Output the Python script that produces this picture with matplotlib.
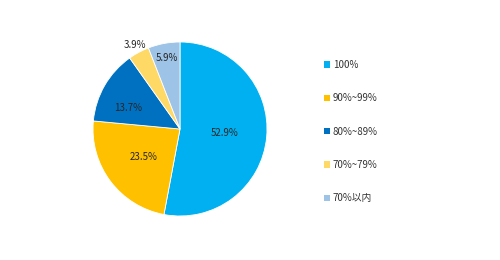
import numpy as np
import matplotlib
matplotlib.use('Agg')
import matplotlib.pyplot as plt
from matplotlib.patches import Patch

plt.rcParams['font.family'] = ['Noto Sans CJK JP', 'DejaVu Sans']

labels = ['100%', '90%~99%', '80%~89%', '70%~79%', '70%以内']
values = [52.9, 23.5, 13.7, 3.9, 5.9]
colors = ['#00B0F0', '#FFC000', '#0070C0', '#FFD966', '#9DC3E6']

# label placement per slice: distance from centre (fraction of radius), angle shift (deg)
label_dist = [0.52, 0.53, 0.64, 1.09, 0.83]
label_shift = [0, 0, 8, 0, 0]

fig = plt.figure(figsize=(5, 2.6), dpi=100)
ax = fig.add_axes([93 / 500, 44 / 260, 174 / 500, 174 / 260])
wedges, _ = ax.pie(values, colors=colors, startangle=90, counterclock=False,
                   wedgeprops=dict(edgecolor='white', linewidth=0.6))
ax.set_xlim(-1, 1)
ax.set_ylim(-1, 1)
ax.set_aspect('equal')

for w, v, d, s in zip(wedges, values, label_dist, label_shift):
    ang = np.deg2rad((w.theta1 + w.theta2) / 2 + s)
    ax.text(d * np.cos(ang), d * np.sin(ang), f'{v}%', ha='center', va='center',
            fontsize=7, color='#262626', clip_on=False)

handles = [Patch(facecolor=c, edgecolor='none') for c in colors]
leg = fig.legend(handles, labels, loc='upper left', bbox_to_anchor=(320 / 500, 1 - 56 / 260),
                 frameon=False, fontsize=7, labelspacing=2.4, handlelength=0.6,
                 handleheight=0.6, handletextpad=0.3, borderaxespad=0)
for t in leg.get_texts():
    t.set_color('#333333')

fig.savefig('out.png', dpi=100)
